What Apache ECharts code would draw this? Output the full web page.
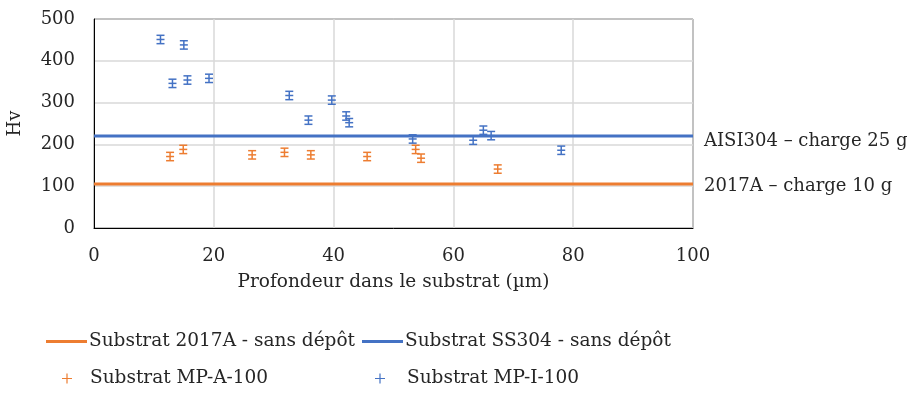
<!DOCTYPE html>
<html>
<head>
<meta charset="utf-8">
<script src="https://cdn.jsdelivr.net/npm/echarts@6/dist/echarts.min.js"></script>
<style>
  html, body { margin: 0; padding: 0; background: #fff; }
  #chart { width: 914px; height: 394px; }
</style>
</head>
<body>
<div id="chart"></div>
<script>
// Depth (µm) and hardness (Hv) of the peened samples, with error half-widths
const depthA = [12.7, 14.9, 26.4, 31.8, 36.2, 45.6, 53.7, 54.6, 67.4];
const hvA    = [171, 188, 175, 181, 175, 171, 188, 167, 141];
const errA   = [10, 10, 10, 10, 10, 10, 10, 10, 10];

const depthI = [11.1, 15.0, 13.1, 15.6, 19.2, 32.6, 39.7, 35.8, 42.1, 42.6, 53.2, 63.3, 65.0, 66.3, 78.0];
const hvI    = [451, 438, 346, 354, 358, 317, 306, 258, 268, 252, 213, 210, 234, 221, 186];
const errI   = [10, 10, 10, 10, 10, 10, 10, 10, 10, 10, 10, 10, 10, 10, 10];

// Reference hardness of the bare substrates
const baseDepth = [0, 100];
const hv2017A = 105;
const hvSS304 = 220;

const xTicks = { min: 0, max: 100, step: 20 };
const yTicks = { min: 0, max: 500, step: 100 };

const ORANGE = '#ED7D31';
const BLUE = '#4472C4';
const TEXT = '#262626';
const FONT = '"DejaVu Serif", serif';
const FS = 18.5;
const PLUS = 'path://M4.4,0 L5.6,0 L5.6,4.4 L10,4.4 L10,5.6 L5.6,5.6 L5.6,10 L4.4,10 L4.4,5.6 L0,5.6 L0,4.4 L4.4,4.4 Z';

function errorBarItem(color) {
  return function (params, api) {
    const x = api.value(0), y = api.value(1), e = api.value(2);
    const top = api.coord([x, y + e]);
    const bot = api.coord([x, y - e]);
    const mid = api.coord([x, y]);
    const hw = 4;
    const style = { stroke: color, lineWidth: 1.5, fill: null };
    return {
      type: 'group',
      children: [
        { type: 'line', shape: { x1: top[0], y1: top[1], x2: bot[0], y2: bot[1] }, style },
        { type: 'line', shape: { x1: top[0] - hw, y1: top[1], x2: top[0] + hw, y2: top[1] }, style },
        { type: 'line', shape: { x1: bot[0] - hw, y1: bot[1], x2: bot[0] + hw, y2: bot[1] }, style },
        { type: 'line', shape: { x1: mid[0] - hw, y1: mid[1], x2: mid[0] + hw, y2: mid[1] }, style }
      ]
    };
  };
}

// One legend block per entry so each sits in its own column
function lineLegend(name, left, top) {
  return {
    left, top, padding: 0, itemWidth: 41, itemHeight: 3,
    icon: 'rect',
    textStyle: { fontFamily: FONT, fontSize: FS, color: TEXT, padding: [0, 0, 0, -3] },
    data: [name]
  };
}
function plusLegend(name, left, top, gap) {
  return {
    left, top, padding: 0, itemWidth: 10, itemHeight: 10,
    icon: PLUS,
    textStyle: { fontFamily: FONT, fontSize: FS, color: TEXT, padding: [0, 0, 0, gap] },
    data: [name]
  };
}

const chart = echarts.init(document.getElementById('chart'), null, { renderer: 'canvas' });

chart.setOption({
  animation: false,
  backgroundColor: '#fff',
  textStyle: { fontFamily: FONT },
  grid: {
    left: 94, right: 221, top: 19, bottom: 166,
    outerBoundsMode: 'none',
    show: true, borderColor: '#000', borderWidth: 1
  },
  xAxis: {
    type: 'value',
    min: xTicks.min, max: xTicks.max, interval: xTicks.step,
    name: 'Profondeur dans le substrat (µm)',
    nameLocation: 'middle', nameGap: 45,
    nameTextStyle: { fontFamily: FONT, fontSize: FS, color: TEXT },
    axisLine: { show: true, lineStyle: { color: '#000', width: 1 } },
    axisTick: { show: false },
    axisLabel: { fontFamily: FONT, fontSize: 18, color: TEXT, margin: 19 },
    splitLine: { show: true, lineStyle: { color: '#d9d9d9', width: 1.5 } }
  },
  yAxis: {
    type: 'value',
    min: yTicks.min, max: yTicks.max, interval: yTicks.step,
    name: 'Hv',
    nameLocation: 'middle', nameGap: 70, nameRotate: 90,
    nameTextStyle: { fontFamily: FONT, fontSize: 18, color: TEXT },
    axisLine: { show: true, lineStyle: { color: '#000', width: 1 } },
    axisTick: { show: false },
    axisLabel: { fontFamily: FONT, fontSize: 18, color: TEXT, margin: 19 },
    splitLine: { show: true, lineStyle: { color: '#d9d9d9', width: 1.5 } }
  },
  legend: [
    lineLegend('Substrat 2017A - sans dépôt', 46, 332),
    lineLegend('Substrat SS304 - sans dépôt', 362, 332),
    plusLegend('Substrat MP-A-100', 62, 369, 13),
    plusLegend('Substrat MP-I-100', 375, 369, 17)
  ],
  series: [
    {
      name: 'Substrat 2017A - sans dépôt',
      type: 'line',
      data: baseDepth.map(d => [d, hv2017A]),
      symbol: 'none',
      lineStyle: { color: ORANGE, width: 3 },
      itemStyle: { color: ORANGE },
      endLabel: {
        show: true, formatter: '2017A – charge 10 g', distance: 11, offset: [0, 2],
        fontFamily: FONT, fontSize: 18, color: TEXT
      }
    },
    {
      name: 'Substrat SS304 - sans dépôt',
      type: 'line',
      data: baseDepth.map(d => [d, hvSS304]),
      symbol: 'none',
      lineStyle: { color: BLUE, width: 3 },
      itemStyle: { color: BLUE },
      endLabel: {
        show: true, formatter: 'AISI304 – charge 25 g', distance: 11, offset: [0, 5],
        fontFamily: FONT, fontSize: 18, color: TEXT
      }
    },
    {
      name: 'Substrat MP-A-100',
      type: 'custom',
      renderItem: errorBarItem(ORANGE),
      itemStyle: { color: ORANGE },
      encode: { x: 0, y: 1 },
      data: depthA.map((d, i) => [d, hvA[i], errA[i]]),
      z: 5
    },
    {
      name: 'Substrat MP-I-100',
      type: 'custom',
      renderItem: errorBarItem(BLUE),
      itemStyle: { color: BLUE },
      encode: { x: 0, y: 1 },
      data: depthI.map((d, i) => [d, hvI[i], errI[i]]),
      z: 5
    }
  ]
});
</script>
</body>
</html>
